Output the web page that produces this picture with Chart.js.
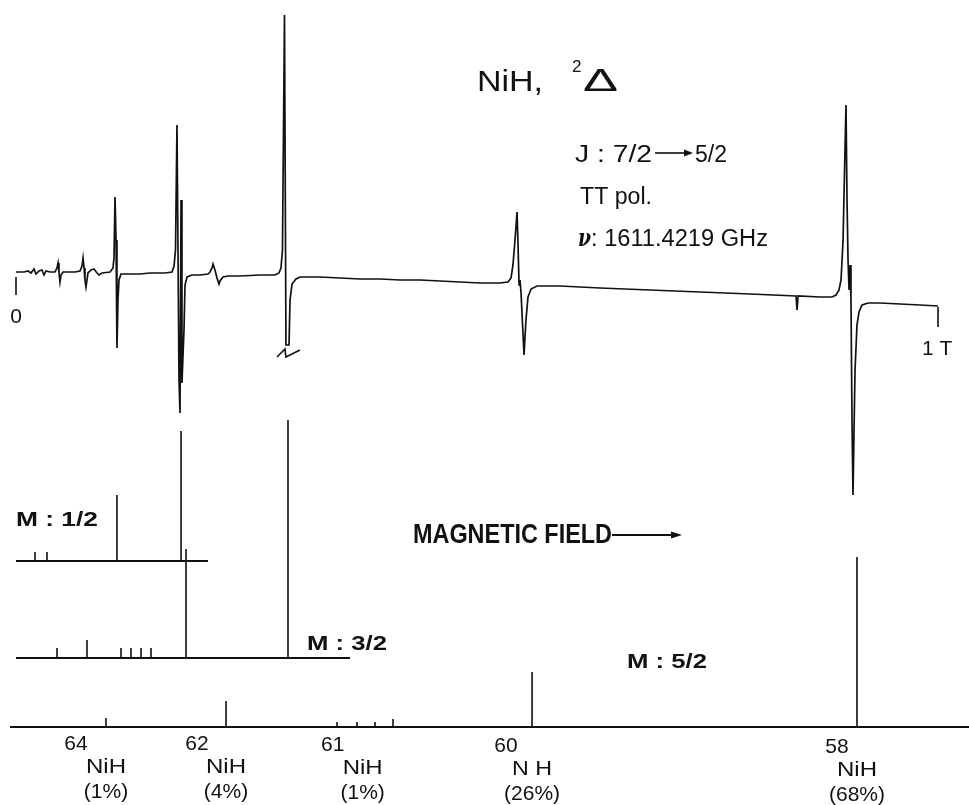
<!DOCTYPE html>
<html>
<head>
<meta charset="utf-8">
<script src="https://cdn.jsdelivr.net/npm/chart.js@4.4.1/dist/chart.umd.min.js"></script>
<style>
html,body{margin:0;padding:0;background:#fff;}
canvas{display:block;}
</style>
</head>
<body>
<canvas id="c" width="969" height="805"></canvas>
<script>
// ---------- DATA ----------
// LMR trace: magnetic field (T) and signal (arb. units, 0 = baseline)
const traceField = [0.0000,0.0087,0.0130,0.0163,0.0195,0.0217,0.0249,0.0282,0.0304,0.0325,0.0369,0.0423,0.0445,0.0456,0.0466,0.0477,0.0488,0.0510,0.0640,0.0694,0.0716,0.0727,0.0738,0.0748,0.0759,0.0770,0.0781,0.0813,0.0846,0.0879,0.0900,0.0933,0.1020,0.1052,0.1063,0.1074,0.1085,0.1095,0.1106,0.1117,0.1139,0.1236,0.1345,0.1453,0.1616,0.1692,0.1714,0.1730,0.1746,0.1757,0.1768,0.1779,0.1790,0.1800,0.1822,0.1833,0.1855,0.1909,0.1996,0.2082,0.2104,0.2126,0.2137,0.2158,0.2180,0.2202,0.2213,0.2245,0.2299,0.2430,0.2646,0.2809,0.2852,0.2874,0.2890,0.2912,0.2928,0.2961,0.2972,0.2994,0.3037,0.3080,0.3297,0.3514,0.3731,0.3948,0.4165,0.4382,0.4599,0.4816,0.5033,0.5249,0.5336,0.5369,0.5390,0.5412,0.5434,0.5445,0.5456,0.5466,0.5477,0.5510,0.5531,0.5553,0.5586,0.5651,0.5900,0.6334,0.6876,0.7419,0.7961,0.8460,0.8471,0.8482,0.8720,0.8850,0.8894,0.8926,0.8948,0.8970,0.8991,0.9002,0.9013,0.9024,0.9035,0.9046,0.9056,0.9067,0.9078,0.9089,0.9100,0.9121,0.9143,0.9176,0.9241,0.9371,0.9588,0.9805,1.0000];
const traceSignal = [3,3,4,2,6,1,4,5,0,4,3,3,7,12,3,-7,0,3,3,4,9,17,7,-5,-12,-5,2,5,6,2,0,2,3,7,17,78,35,-73,-25,-5,1,1,1,2,2,3,9,25,150,25,-105,-138,75,-108,-55,-10,-2,0,0,1,3,7,11,5,-3,-9,-6,-2,-1,-1,0,0,2,7,25,260,-70,-70,-25,-9,-4,-2,-2,-3,-4,-4,-5,-5,-6,-7,-8,-8,-7,-3,10,35,63,30,-10,-5,-17,-80,-45,-22,-14,-11,-11,-13,-15,-17,-19,-21,-35,-21,-22,-22,-20,-15,-5,35,125,170,75,15,-15,10,-25,-145,-220,-155,-95,-50,-37,-30,-28,-28,-29,-30,-31];
const offScaleField = 0.2928;   // pen off-scale (break mark)
const offScaleSignal = -70;

// Field markers on the trace
const markerField = [0, 1];
const markerLabels = ['0', '1 T'];

// Calculated stick spectra (field in T, relative intensity)
const m12Field = [0.0206, 0.0336, 0.1095, 0.1790];
const m12Int   = [9, 9, 66, 130];
const m12Range = [0, 0.2082];

const m32Field = [0.0445, 0.0770, 0.1139, 0.1247, 0.1356, 0.1464, 0.1844, 0.2950];
const m32Int   = [10, 18, 10, 10, 10, 10, 109, 238];
const m32Range = [0, 0.3623];

const m52Field = [0.0976, 0.2278, 0.3482, 0.3698, 0.3894, 0.4089, 0.5597, 0.9121];
const m52Int   = [9, 26, 5, 5, 5, 8, 55, 170];
const m52Range = [-0.0065, 1.0336];

// Isotopologue labels
const isoField = [0.0976, 0.2278, 0.3760, 0.5597, 0.9121];
const isoMass  = ['64', '62', '61', '60', '58'];
const isoName  = ['NiH', 'NiH', 'NiH', 'N H', 'NiH'];
const isoAbund = ['(1%)', '(4%)', '(1%)', '(26%)', '(68%)'];

// ---------- BUILD ----------
function sticks(fields, ints) {
  const pts = [];
  fields.forEach((f, i) => { pts.push({x:f, y:0}, {x:f, y:ints[i]}, {x:f, y:null}); });
  return pts;
}
function baseline(range) { return [{x:range[0], y:0}, {x:range[1], y:0}]; }

const trace = traceField.map((f, i) => ({x:f, y:traceSignal[i]}));
const markerPts = [];
markerField.forEach((f, i) => {
  const top = i === 0 ? -2 : -32, bot = i === 0 ? -20 : -52;
  markerPts.push({x:f, y:top}, {x:f, y:bot}, {x:f, y:null});
});

const INK = '#111';
const FONT = '"Liberation Sans", Arial, Helvetica, sans-serif';

function lineDs(data, axis, width) {
  return {data, yAxisID: axis, borderColor: INK, borderWidth: width, pointRadius: 0,
          tension: 0, spanGaps: false, fill: false, borderCapStyle: 'butt', borderJoinStyle: 'miter'};
}

function txt(ctx, s, x, y, size, o) {
  o = o || {};
  ctx.font = (o.style || '') + ' ' + (o.weight || 'normal') + ' ' + size + 'px ' + (o.family || FONT);
  const w = ctx.measureText(s).width;
  const tw = o.width || w;
  let left = x;
  if (o.align === 'center') left = x - tw / 2;
  else if (o.align === 'right') left = x - tw;
  ctx.save();
  ctx.translate(left, y);
  ctx.scale(tw / w, 1);
  ctx.fillStyle = INK;
  ctx.textAlign = 'left';
  ctx.textBaseline = 'alphabetic';
  ctx.fillText(s, 0, 0);
  ctx.restore();
}
function arrow(ctx, x1, x2, y, head, half, lw) {
  ctx.save();
  ctx.strokeStyle = INK; ctx.fillStyle = INK; ctx.lineWidth = lw;
  ctx.beginPath(); ctx.moveTo(x1, y); ctx.lineTo(x2 - head + 1, y); ctx.stroke();
  ctx.beginPath(); ctx.moveTo(x2, y); ctx.lineTo(x2 - head, y - half); ctx.lineTo(x2 - head, y + half); ctx.closePath(); ctx.fill();
  ctx.restore();
}

const massOffset = [-30, -29, -30, -26, -20];

const decor = {
  id: 'decor',
  beforeDraw(chart) {
    const c = chart.ctx; c.save(); c.fillStyle = '#fff'; c.fillRect(0, 0, chart.width, chart.height); c.restore();
  },
  afterDraw(chart) {
    const ctx = chart.ctx;
    const X = chart.scales.x, YT = chart.scales.yT, Y52 = chart.scales.y52;
    // break mark on off-scale peak
    const bx = X.getPixelForValue(offScaleField), by = YT.getPixelForValue(offScaleSignal);
    ctx.save(); ctx.strokeStyle = INK; ctx.lineWidth = 1.6;
    ctx.beginPath();
    ctx.moveTo(bx - 9, by + 12); ctx.lineTo(bx - 1, by + 4); ctx.lineTo(bx, by + 12); ctx.lineTo(bx + 14, by + 5);
    ctx.stroke(); ctx.restore();

    // field marker labels
    const b0 = YT.getPixelForValue(0);
    txt(ctx, markerLabels[0], X.getPixelForValue(markerField[0]), b0 + 48, 21, {align: 'center'});
    txt(ctx, markerLabels[1], X.getPixelForValue(markerField[1]) - 16, b0 + 80, 21, {});

    // title block
    txt(ctx, 'NiH,', 477, 91, 30, {width: 66});
    txt(ctx, '2', 572, 72, 17, {});
    txt(ctx, '\u0394', 583, 91, 31, {width: 35});
    txt(ctx, 'J : 7/2', 575, 162, 23, {width: 77});
    arrow(ctx, 655, 693, 153, 9, 3.5, 1.6);
    txt(ctx, '5/2', 695, 162, 23, {});
    txt(ctx, 'TT pol.', 580, 204, 23, {width: 72});
    txt(ctx, '\u03BD', 578, 246, 24, {weight: 'bold', style: 'italic', family: '"DejaVu Serif", serif', width: 13});
    txt(ctx, ': 1611.4219 GHz', 591, 246, 23, {width: 177});

    // stick diagram labels
    txt(ctx, 'M : 1/2', 16, 526, 21, {weight: 'bold', width: 82});
    txt(ctx, 'M : 3/2', 307, 650, 21, {weight: 'bold', width: 80});
    txt(ctx, 'M : 5/2', 627, 668, 21, {weight: 'bold', width: 80});
    txt(ctx, 'MAGNETIC FIELD', 413, 543, 27, {weight: 'bold', width: 199});
    arrow(ctx, 612, 682, 535, 11, 3.5, 1.8);

    // isotopologue labels (axis line sags slightly to the right)
    const base = Y52.getPixelForValue(0);
    isoField.forEach((f, i) => {
      const cx = X.getPixelForValue(f);
      const b = base - 2 + 5 * cx / chart.width;
      txt(ctx, isoMass[i], cx + massOffset[i], b + 24, 21, {align: 'center'});
      txt(ctx, isoName[i], cx, b + 47, 21, {align: 'center', width: 40});
      txt(ctx, isoAbund[i], cx, b + 72, 21, {align: 'center'});
    });
  }
};

new Chart(document.getElementById('c'), {
  type: 'line',
  data: {
    datasets: [
      lineDs(trace, 'yT', 1.7),
      lineDs(markerPts, 'yT', 1.6),
      lineDs(baseline(m12Range), 'y12', 2),
      lineDs(sticks(m12Field, m12Int), 'y12', 1.6),
      lineDs(baseline(m32Range), 'y32', 2),
      lineDs(sticks(m32Field, m32Int), 'y32', 1.6),
      lineDs(baseline(m52Range), 'y52', 2),
      lineDs(sticks(m52Field, m52Int), 'y52', 1.6)
    ]
  },
  options: {
    responsive: false,
    animation: false,
    devicePixelRatio: 1,
    layout: {padding: 0},
    plugins: {legend: {display: false}, tooltip: {enabled: false}},
    scales: {
      x:   {type: 'linear', min: -0.01735, max: 1.0336, display: false},
      yT:  {type: 'linear', min: -530, max: 275, display: false},
      y12: {type: 'linear', min: -244, max: 561, display: false},
      y32: {type: 'linear', min: -147, max: 658, display: false},
      y52: {type: 'linear', min: -78,  max: 727, display: false}
    }
  },
  plugins: [decor]
});
</script>
</body>
</html>
